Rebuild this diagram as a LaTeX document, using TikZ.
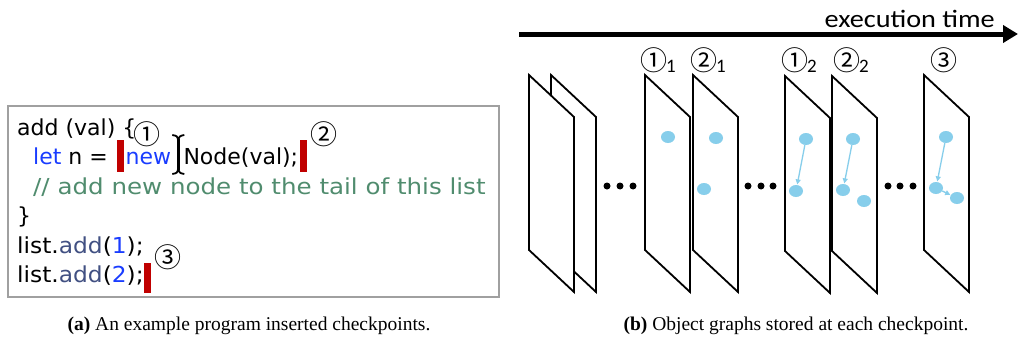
\documentclass[tikz,border=0pt]{standalone}
\usepackage{fontspec}
\usetikzlibrary{arrows.meta,shapes.geometric,calc}
\setmainfont{Liberation Serif}
\newfontfamily\codefont{DejaVu Sans}
\newfontfamily\cjk{Noto Sans CJK JP}
\newfontfamily\labfont{Carlito}
\definecolor{kwblue}{RGB}{25,60,255}
\definecolor{fnslate}{RGB}{65,80,130}
\definecolor{cmgreen}{RGB}{80,140,110}
\definecolor{ckred}{RGB}{192,0,0}
\definecolor{boxgray}{RGB}{160,160,160}
\definecolor{objblue}{RGB}{135,206,235}
\tikzset{
  codetxt/.style={font=\codefont\fontsize{22}{26}\selectfont, inner sep=0pt, anchor=base west},
  ckmark/.style={fill=ckred, minimum width=7pt, minimum height=32pt, inner sep=0pt, anchor=south west},
  circnum/.style={font=\cjk\fontsize{27}{27}\selectfont, inner sep=0pt, text height=18pt, text depth=2pt},
  subnum/.style={font=\labfont\fontsize{19}{19}\selectfont, inner sep=0pt, anchor=base west},
  planeline/.style={draw=black, fill=white, line width=1.8pt, line join=miter},
  plane/.pic={\draw[planeline] (0,0) -- (45,42) -- (45,217) -- (0,175) -- cycle;},
  objdot/.style={ellipse, fill=objblue, minimum width=14pt, minimum height=12pt, inner sep=0pt},
  objlink/.style={draw=objblue, line width=1.3pt, shorten >=0.5pt, -{Triangle[length=5pt,width=5pt]}},
  gapdot/.style={circle, fill=black, minimum size=7pt, inner sep=0pt},
  captxt/.style={font=\fontsize{19.5}{22}\selectfont, inner sep=0pt, anchor=base}
}
\begin{document}
\begin{tikzpicture}[x=1pt,y=-1pt]
\useasboundingbox (0,0) rectangle (1019,343);

% ---------- (a) program with checkpoints ----------
\node[draw=boxgray, line width=2pt, minimum width=491pt, minimum height=191pt, anchor=north west, inner sep=0pt] (codebox) at (7,105) {};

\node[codetxt] (l1) at (17,135) {add (val) \{};
\node[codetxt] (l2a) at (33,164) {\textcolor{kwblue}{let} n =};
\node[ckmark] (m1) at ($(l2a.base east)+(9,8)$) {};
\node[codetxt, text=kwblue] (l2b) at ($(m1.south east)+(1,-8)$) {new};
\coordinate (ib) at ($(l2b.base east)+(7,0)$);
\node[codetxt] (l2c) at ($(l2b.base east)+(12,0)$) {Node(val);};
\node[ckmark] (m2) at ($(l2c.base east)+(1,8)$) {};
\node[codetxt, text=cmgreen] (l3) at (33,194) {\scalebox{1.115}[1]{// add new node to the tail of this list}};
\node[codetxt] (l4) at (17,223) {\}};
\node[codetxt] (l5) at (17,253) {\scalebox{1.06}[1]{list.\textcolor{fnslate}{add}(\textcolor{kwblue}{1});}};
\node[codetxt] (l6) at (17,282) {\scalebox{1.06}[1]{list.\textcolor{fnslate}{add}(\textcolor{kwblue}{2});}};
\node[ckmark, minimum height=30pt] (m3) at ($(l6.base east)+(0,11)$) {};

% text cursor between "new" and "Node"
\draw[line width=2.4pt] ($(ib)+(0,-25)$) -- ($(ib)+(0,6)$);
\draw[line width=1.8pt] ($(ib)+(-6,-29)$) .. controls ($(ib)+(-1,-28)$) .. ($(ib)+(0,-23)$) .. controls ($(ib)+(1,-28)$) .. ($(ib)+(6,-29)$);
\draw[line width=1.8pt] ($(ib)+(-6,10)$) .. controls ($(ib)+(-1,9)$) .. ($(ib)+(0,4)$) .. controls ($(ib)+(1,9)$) .. ($(ib)+(6,10)$);

\node[circnum] (c1) at (147,136) {①};
\node[circnum] (c2) at (324,136) {②};
\node[circnum] (c3) at (168,259) {③};

% ---------- (b) object graphs along execution time ----------
\coordinate (tstart) at (519,34);
\coordinate (tend) at (1018,34);
\draw[line width=5pt, -{Triangle[length=15pt,width=17pt]}] (tstart) -- (tend);
\node[font=\labfont\fontsize{25}{26}\selectfont, inner sep=0pt, anchor=base east] (tlabel) at (995,27) {\scalebox{1.13}[1]{execution time}};

\pic at (924,75) {plane};
\pic at (832,76) {plane};
\pic at (785,76) {plane};
\pic at (693,75) {plane};
\pic at (645,75) {plane};
\pic at (551,75) {plane};
\pic at (529,75) {plane};

\node[circnum] (s1) at (654,62) {①};
\node[subnum] at ($(s1.center)+(12,10)$) {1};
\node[circnum] (s2) at (704,62) {②};
\node[subnum] at ($(s2.center)+(12,10)$) {1};
\node[circnum] (s3) at (795,62) {①};
\node[subnum] at ($(s3.center)+(12,10)$) {2};
\node[circnum] (s4) at (847,62) {②};
\node[subnum] at ($(s4.center)+(12,10)$) {2};
\node[circnum] (s5) at (944,62) {③};

\foreach \x in {607,620,633,748,761,773,888,900,913}
  \node[gapdot] at (\x,186) {};

\node[objdot] (a1) at (668,137) {};
\node[objdot] (b1) at (716,138) {};
\node[objdot] (b2) at (704,189) {};
\node[objdot] (c1o) at (806,139) {};
\node[objdot] (c2o) at (796,191) {};
\node[objdot] (d1) at (853,139) {};
\node[objdot] (d2) at (843,190) {};
\node[objdot] (d3) at (864,201) {};
\node[objdot] (e1) at (946,137) {};
\node[objdot] (e2) at (936,188) {};
\node[objdot] (e3) at (957,198) {};
\draw[objlink] (c1o) -- (c2o);
\draw[objlink] (d1) -- (d2);
\draw[objlink] (e1) -- (e2);
\draw[objlink] (e2) -- (e3);

% ---------- captions ----------
\node[captxt] (capa) at (249,330) {\textbf{(a)} An example program inserted checkpoints.};
\node[captxt] (capb) at (796,330) {\textbf{(b)} Object graphs stored at each checkpoint.};
\end{tikzpicture}
\end{document}
